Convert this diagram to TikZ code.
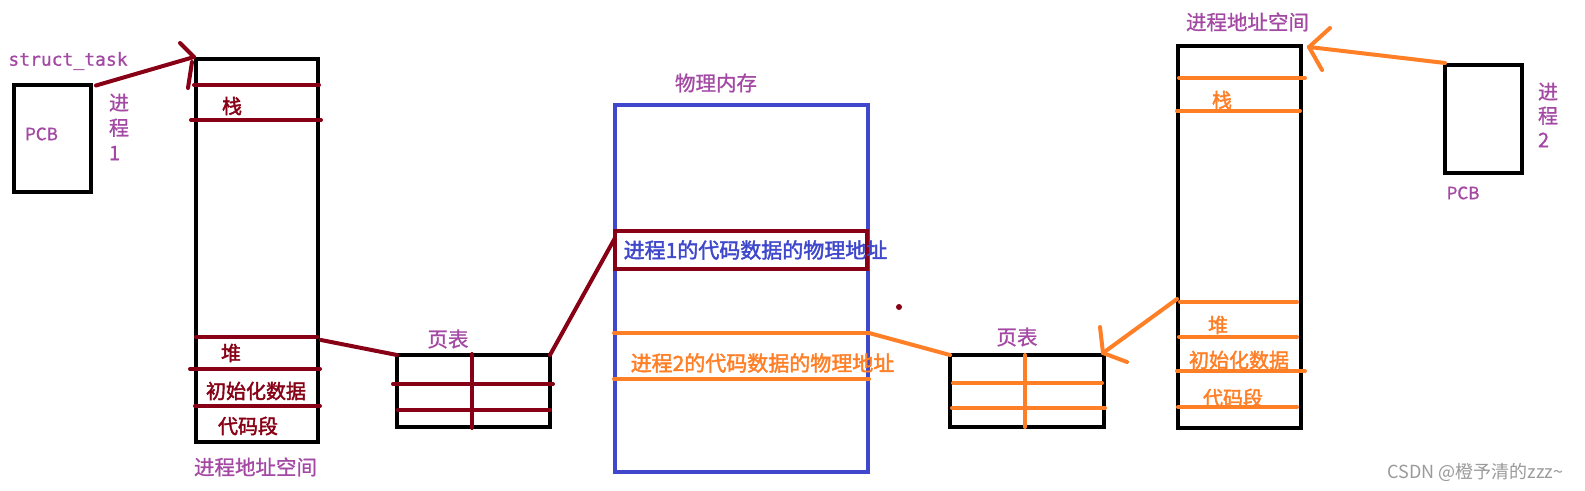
\documentclass[tikz,border=0pt]{standalone}
\usepackage{fontspec}
\setmainfont{Noto Sans CJK SC}[AutoFakeBold=2]
\newfontfamily\plfont{Noto Sans CJK SC}[FakeBold=1]
\newfontfamily\codefont{DejaVu Sans Mono}[FakeBold=0.8]
\usetikzlibrary{calc}
\definecolor{pPurple}{HTML}{A349A4}
\definecolor{pRed}{HTML}{880015}
\definecolor{pOrange}{HTML}{FF7F27}
\definecolor{pBlue}{HTML}{3F48CC}
\definecolor{pGray}{HTML}{9A9A9A}
\begin{document}
\begin{tikzpicture}[x=1pt,y=-1pt,
  box/.style={draw=black,line width=4pt,inner sep=0pt,outer sep=0pt},
  redln/.style={draw=pRed,line width=4pt,line cap=round},
  orln/.style={draw=pOrange,line width=4pt,line cap=round},
  plbl/.style={text=pPurple,font=\plfont\fontsize{20.5}{25}\selectfont,inner sep=0pt},
  rlbl/.style={text=pRed,font=\fontsize{20}{24}\selectfont\bfseries,inner sep=0pt},
  olbl/.style={text=pOrange,font=\fontsize{20}{24}\selectfont\bfseries,inner sep=0pt},
]
\useasboundingbox[fill=white] (0,0) rectangle (1585,490);

% ---- boxes ----
\node[box,minimum width=77pt,minimum height=107pt] (pcb1) at (52.5,138) {};
\node[box,minimum width=122pt,minimum height=383pt] (las) at (257,250.5) {};
\node[box,minimum width=153pt,minimum height=72pt] (pt1) at (473.5,391) {};
\node[box,draw=pBlue,minimum width=253pt,minimum height=367pt] (mem) at (741.5,288.5) {};
\node[box,draw=pRed,minimum width=252pt,minimum height=38pt] (p1rect) at (741,250) {};
\node[box,minimum width=154pt,minimum height=72pt] (pt2) at (1027,391) {};
\node[box,minimum width=123pt,minimum height=382pt] (ras) at (1239.5,237) {};
\node[box,minimum width=77pt,minimum height=108pt] (pcb2) at (1483.5,119) {};

% ---- left address space dividers ----
\draw[redln] (194,85) -- (319,85);
\draw[redln] (191,120) -- (321,120);
\draw[redln] (196,337) -- (317,337);
\draw[redln] (190,369) -- (320,369);
\draw[redln] (195,406) -- (320,406);

% ---- page table 1 grid ----
\draw[redln] (472,354) -- (472,428);
\draw[redln] (393,384) -- (553,384);
\draw[redln] (398,410) -- (550,410);

% ---- physical memory, process 2 region ----
\draw[orln] (614,333) -- (869,333);
\draw[orln] (614,379) -- (869,379);

% ---- page table 2 grid ----
\draw[orln] (1025,355) -- (1025,427);
\draw[orln] (953,383) -- (1102,383);
\draw[orln] (952,408) -- (1105,408);

% ---- right address space dividers ----
\draw[orln] (1179,78) -- (1305,78);
\draw[orln] (1177,111) -- (1300,111);
\draw[orln] (1180,302) -- (1297,302);
\draw[orln] (1179,337) -- (1297,337);
\draw[orln] (1177,371) -- (1305,371);
\draw[orln] (1178,407) -- (1297,407);

% ---- connectors ----
\coordinate (tip1) at ($(las.north west)+(-2,-2)$);
\draw[redln] ($(pcb1.north east)+(5,1)$) -- (tip1);
\draw[redln] (tip1) -- ++(-14,-14);
\draw[redln] ($(tip1)+(-2,5)$) -- ++(-4,26);
\draw[redln] ($(las.east)+(3,89.5)$) -- (pt1.north west);
\draw[redln] (pt1.north east) -- ($(p1rect.west)+(0,-12)$);
\draw[orln] ($(mem.east)+(1,44.5)$) -- (pt2.north west);
\coordinate (tip2) at ($(pt2.north east)+(-1,-2)$);
\draw[orln] ($(ras.west)+(-1,62)$) -- (tip2);
\draw[orln] (tip2) -- ++(-3,-26);
\draw[orln] (tip2) -- ++(24,9);
\coordinate (tip3) at ($(ras.north east)+(8,1)$);
\draw[orln] ($(pcb2.north west)+(0,-2)$) -- (tip3);
\draw[orln] (tip3) -- ++(21,-19);
\draw[orln] (tip3) -- ++(13,23);
\fill[pRed] (899,307) circle (3);

% ---- labels ----
\node[text=pPurple,font=\codefont\fontsize{18}{20}\selectfont,inner sep=0pt] (stask) at (68,61) {struct\_task};
\node[plbl,font=\plfont\fontsize{17}{20}\selectfont] (pcbl1) at (41.5,134) {PCB};
\node[plbl,align=left,font=\plfont\fontsize{20}{25}\selectfont] (proc1) at (119,127) {进\\程\\1};
\node[rlbl] (stk1) at (232,106) {栈};
\node[rlbl] (heap1) at (231,353) {堆};
\node[rlbl] (init1) at (256,391) {初始化数据};
\node[rlbl] (code1) at (248,426) {代码段};
\node[plbl] (as1) at (255.5,467) {进程地址空间};
\node[plbl] (ptl1) at (448,339) {页表};
\node[plbl] (meml) at (716,83) {物理内存};
\node[inner sep=0pt,text=pBlue,font=\fontsize{21}{24}\selectfont\bfseries] (phy1) at (755.5,250) {进程1的代码数据的物理地址};
\node[inner sep=0pt,text=pOrange,font=\fontsize{21}{24}\selectfont\bfseries] (phy2) at (762.5,363) {进程2的代码数据的物理地址};
\node[plbl] (ptl2) at (1017,337) {页表};
\node[plbl] (as2) at (1247.5,22) {进程地址空间};
\node[olbl] (stk2) at (1222,100) {栈};
\node[olbl] (heap2) at (1218,325) {堆};
\node[olbl] (init2) at (1239,360) {初始化数据};
\node[olbl] (code2) at (1233,398) {代码段};
\node[plbl,align=left,font=\plfont\fontsize{20}{24}\selectfont] (proc2) at (1548,115) {进\\程\\2};
\node[plbl,font=\plfont\fontsize{17}{20}\selectfont] (pcbl2) at (1463,193) {PCB};
\node[inner sep=0pt,text=pGray,font=\fontsize{18}{20}\selectfont] (wm) at (1475.5,472) {CSDN @橙予清的zzz\textasciitilde};
\end{tikzpicture}
\end{document}
